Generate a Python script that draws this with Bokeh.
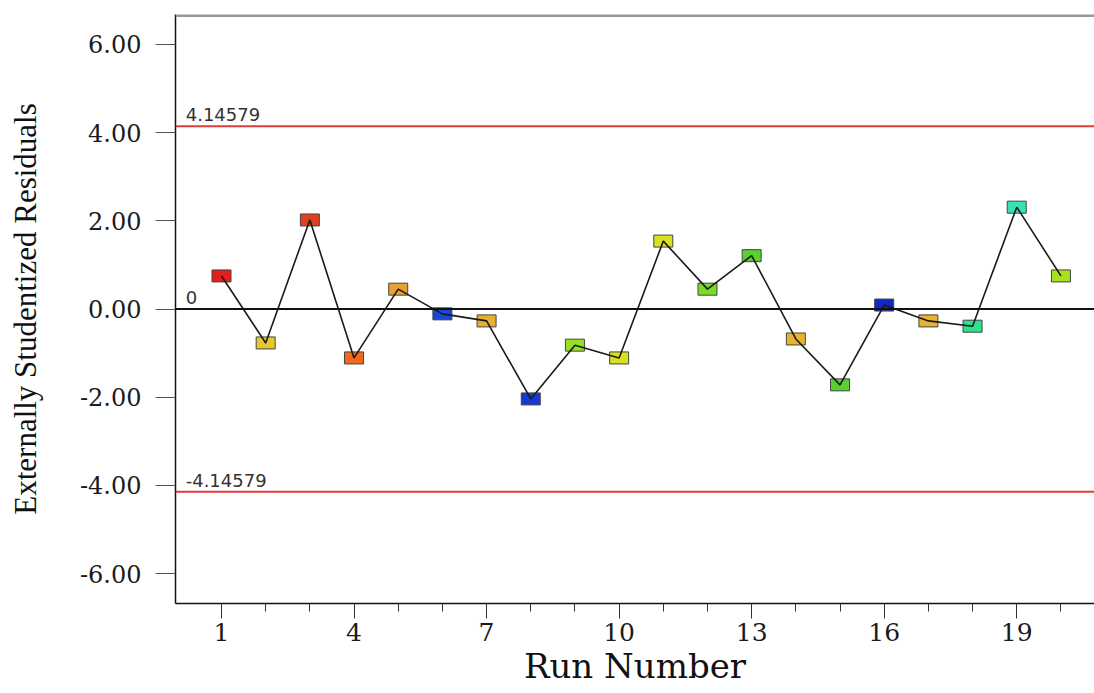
from bokeh.plotting import figure
from bokeh.models import (ColumnDataSource, Span, Label, FixedTicker,
                          NumeralTickFormatter, Range1d)
from bokeh.embed import file_html
from bokeh.resources import INLINE

# ---- data ----
runs = list(range(1, 21))
residuals = [0.75, -0.77, 2.02, -1.11, 0.45, -0.11, -0.27, -2.04, -0.82, -1.11,
             1.54, 0.45, 1.21, -0.68, -1.72, 0.09, -0.27, -0.39, 2.31, 0.75]
colors = ["#e81c1c", "#e8c82a", "#e0401c", "#f06a1a", "#e8a030", "#1848d8",
          "#e8b030", "#1838d0", "#98e028", "#d8e020", "#d8e020", "#78dc28",
          "#58d030", "#e8b430", "#58d030", "#1028c8", "#e8b430", "#30e08c",
          "#38e0b8", "#a8e020"]
upper_limit = 4.14579
lower_limit = -4.14579
upper_text = "4.14579"
lower_text = "-4.14579"
zero_text = "0"
x_major_ticks = [1, 4, 7, 10, 13, 16, 19]
x_minor_ticks = list(range(1, 21))
y_ticks = [-6, -4, -2, 0, 2, 4, 6]
x_title = "Run Number"
y_title = "Externally Studentized Residuals"

src = ColumnDataSource(dict(x=runs, y=residuals, c=colors))

p = figure(width=1094, height=693, output_backend="svg", toolbar_location=None,
           x_range=Range1d(-0.041, 20.76), y_range=Range1d(-6.68, 6.68),
           min_border_left=175, min_border_right=0, min_border_top=14,
           min_border_bottom=90)
p.background_fill_color = "white"
p.border_fill_color = "white"
p.outline_line_color = None
p.grid.visible = False

# axes
xa = p.xaxis[0]
xa.ticker = FixedTicker(ticks=x_major_ticks, minor_ticks=x_minor_ticks)
xa.axis_label = x_title
xa.axis_label_text_font = "DejaVu Serif"
xa.axis_label_text_font_size = "34px"
xa.axis_label_text_font_style = "normal"
xa.axis_label_text_color = "#111111"
xa.axis_label_standoff = 2
xa.major_label_text_font = "DejaVu Serif"
xa.major_label_text_font_size = "25px"
xa.major_label_text_color = "#1a1a1a"
xa.major_label_standoff = 4
xa.major_tick_out = 15
xa.major_tick_in = 0
xa.minor_tick_out = 8
xa.minor_tick_in = 0
xa.major_tick_line_color = "#333333"
xa.minor_tick_line_color = "#333333"
xa.axis_line_color = "#111111"
xa.axis_line_width = 1.5

ya = p.yaxis[0]
ya.ticker = FixedTicker(ticks=y_ticks, minor_ticks=[])
ya.formatter = NumeralTickFormatter(format="0.00")
ya.axis_label = y_title
ya.axis_label_text_font = "Liberation Serif"
ya.axis_label_text_font_size = "31px"
ya.axis_label_text_font_style = "normal"
ya.axis_label_text_color = "#111111"
ya.axis_label_standoff = 34
ya.major_label_text_font = "DejaVu Serif"
ya.major_label_text_font_size = "24px"
ya.major_label_text_color = "#1a1a1a"
ya.major_label_standoff = 14
ya.major_tick_out = 20
ya.major_tick_in = 0
ya.major_tick_line_color = "#555555"
ya.axis_line_color = "#111111"
ya.axis_line_width = 1.5

# top border
p.add_layout(Span(location=6.66, dimension="width", line_color="#999999",
                  line_width=3))

# reference lines
p.add_layout(Span(location=upper_limit, dimension="width", line_color="#e03c3c",
                  line_width=2.2))
p.add_layout(Span(location=lower_limit, dimension="width", line_color="#e03c3c",
                  line_width=2.2))
p.add_layout(Span(location=0, dimension="width", line_color="#111111",
                  line_width=2))

for txt, loc in [(upper_text, upper_limit), (lower_text, lower_limit), (zero_text, 0)]:
    p.add_layout(Label(x=0.19, y=loc, text=txt, y_offset=5,
                       text_font="DejaVu Sans", text_font_size="18px",
                       text_color="#333333", text_baseline="bottom",
                       text_align="left"))

# markers and connecting line
p.rect("x", "y", width=19, height=12, width_units="screen", height_units="screen",
       fill_color="c", line_color="#444444", line_width=1, source=src)
p.line("x", "y", line_color="#1a1a1a", line_width=1.6, source=src)

open("out.html", "w").write(file_html(p, INLINE))
